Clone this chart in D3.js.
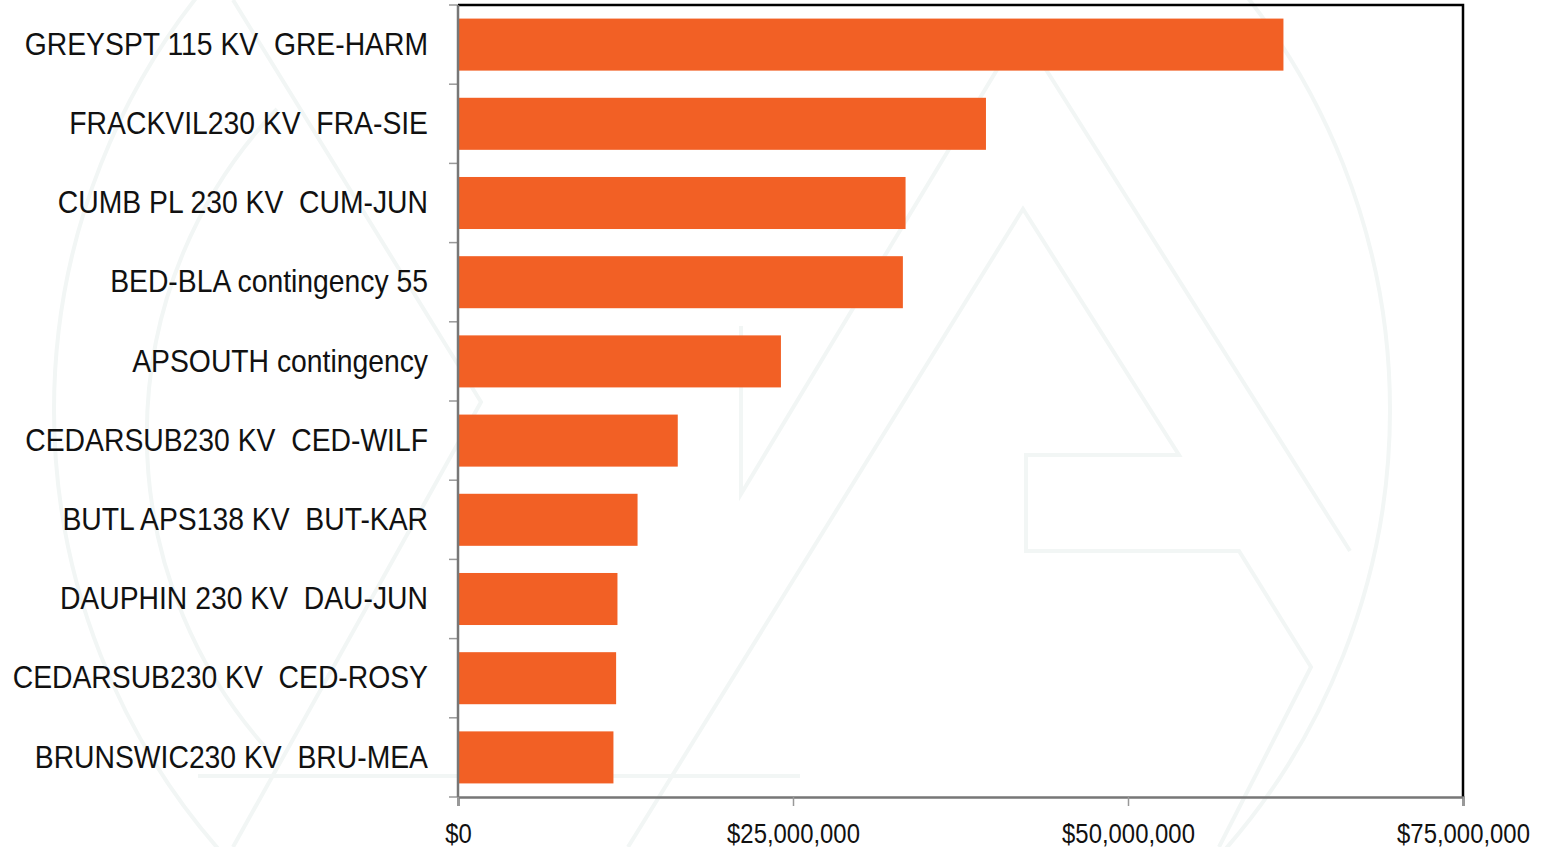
<!DOCTYPE html>
<html lang="en">
<head>
<meta charset="UTF-8">
<title>Congestion by constraint</title>
<script src="https://d3js.org/d3.v7.min.js"></script>
<style>
    body {
        margin: 0;
        background: #fff;
        overflow: hidden;
    }
    svg {
        display: block;
        font-family: 'Liberation Sans', Arial, sans-serif;
    }
    .lbl text {
        font-size: 32px;
        fill: #111;
        white-space: pre;
    }
    .xax text {
        font-size: 27px;
        fill: #111;
    }
</style>
</head>
<body>
<svg id="chart" width="1546" height="847"></svg>
<script>
    // constraint names, top to bottom
    const constraints = [
        'GREYSPT 115 KV  GRE-HARM',
        'FRACKVIL230 KV  FRA-SIE',
        'CUMB PL 230 KV  CUM-JUN',
        'BED-BLA contingency 55',
        'APSOUTH contingency',
        'CEDARSUB230 KV  CED-WILF',
        'BUTL APS138 KV  BUT-KAR',
        'DAUPHIN 230 KV  DAU-JUN',
        'CEDARSUB230 KV  CED-ROSY',
        'BRUNSWIC230 KV  BRU-MEA'
    ];
    // congestion cost, dollars
    const costs = [61.6e6, 39.4e6, 33.4e6, 33.2e6, 24.1e6, 16.4e6, 13.4e6, 11.9e6, 11.8e6, 11.6e6];
    const xTicks = [0, 25e6, 50e6, 75e6];

    const svg = d3.select('#chart');
    const margin = { top: 5, right: 83, bottom: 50, left: 458 };
    const W = 1546, H = 847;
    const width = W - margin.left - margin.right;
    const height = H - margin.top - margin.bottom;
    const narrow = 0.885; // squeeze text to look like a narrow face

    // faint logo watermark behind the chart
    const wm = svg.append('g')
        .attr('fill', 'none')
        .attr('stroke', '#f2f6f5')
        .attr('stroke-width', 4);
    const line = d3.line();
    wm.append('circle').attr('cx', 722).attr('cy', 410).attr('r', 668);
    wm.append('path').attr('d', 'M277,109 A472,472 0 0,0 277,760');
    // inner A
    wm.append('path').attr('d', line([[628, 847], [1023, 209], [1179, 455], [1026, 455], [1026, 551], [1239, 551], [1311, 667], [1219, 847]]));
    // outer A
    wm.append('path').attr('d', line([[741, 326], [741, 494], [1021, 30], [1350, 551]]));
    wm.append('path').attr('d', line([[233, 0], [481, 402], [233, 847]]));
    wm.append('path').attr('d', line([[198, 776], [800, 776]]));

    const g = svg.append('g')
        .attr('transform', `translate(${margin.left},${margin.top})`);

    const x = d3.scaleLinear()
        .domain([0, 75e6])
        .range([0, width]);

    const y = d3.scaleBand()
        .domain(constraints)
        .range([0, height])
        .paddingInner(0.343)
        .paddingOuter(0.1715);

    // bars
    g.selectAll('rect.bar')
        .data(constraints)
        .enter()
        .append('rect')
        .attr('class', 'bar')
        .attr('x', x(0))
        .attr('y', d => y(d))
        .attr('width', (d, i) => x(costs[i]) - x(0))
        .attr('height', y.bandwidth())
        .attr('fill', '#f26025');

    // top and right frame
    g.append('path')
        .attr('d', `M0,0H${width}V${height}`)
        .attr('fill', 'none')
        .attr('stroke', '#000')
        .attr('stroke-width', 2.5);

    // x axis
    const xAxis = g.append('g')
        .attr('class', 'xax')
        .attr('transform', `translate(0,${height})`)
        .call(d3.axisBottom(x)
            .tickValues(xTicks)
            .tickSize(9)
            .tickPadding(18)
            .tickFormat(d => '$' + d3.format(',')(d)));
    xAxis.attr('font-family', null).attr('font-size', null);
    xAxis.select('.domain').attr('stroke', '#777').attr('stroke-width', 2.5);
    xAxis.selectAll('.tick line').attr('stroke', '#999').attr('stroke-width', 1.5);
    xAxis.selectAll('text').attr('transform', `scale(${narrow},1)`);

    // y labels
    const yAxis = g.append('g')
        .attr('class', 'lbl')
        .call(d3.axisLeft(y).tickSize(0).tickPadding(30));
    yAxis.attr('font-family', null).attr('font-size', null);
    yAxis.select('.domain').remove();
    yAxis.selectAll('text')
        .attr('x', -30 / narrow)
        .attr('transform', `scale(${narrow},1)`);

    // y ticks sit on the band edges
    const edges = d3.range(constraints.length + 1).map(i => i * y.step());
    g.selectAll('line.edge')
        .data(edges)
        .enter()
        .append('line')
        .attr('class', 'edge')
        .attr('x1', -9)
        .attr('x2', 0)
        .attr('y1', d => d)
        .attr('y2', d => d)
        .attr('stroke', '#999')
        .attr('stroke-width', 1.5);

    g.append('line')
        .attr('x1', 0).attr('x2', 0)
        .attr('y1', 0).attr('y2', height)
        .attr('stroke', '#777')
        .attr('stroke-width', 2.5);
</script>
</body>
</html>
